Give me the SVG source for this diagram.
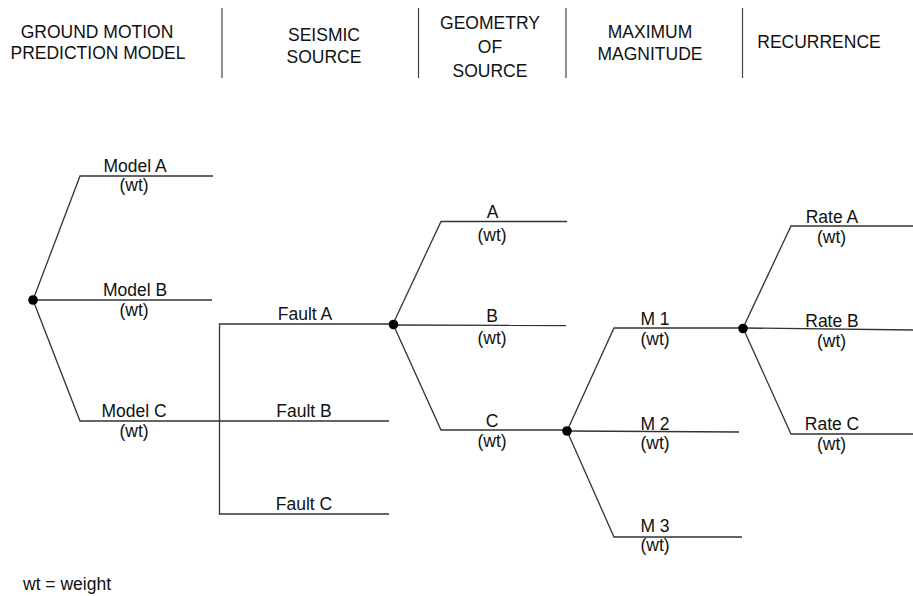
<svg xmlns="http://www.w3.org/2000/svg" width="913" height="596" viewBox="0 0 913 596">
<style>
text{font-family:"Liberation Sans",Arial,sans-serif;font-size:17.5px;fill:#111;text-anchor:middle}
.l{fill:none;stroke:#333;stroke-width:1.3}
.d{stroke:#444;stroke-width:1.2}
.dot{fill:#000}
</style>
<rect width="913" height="596" fill="#fff"/>
<g id="header">
<line class="d" x1="222" y1="8" x2="222" y2="78"/>
<line class="d" x1="418.5" y1="8" x2="418.5" y2="78"/>
<line class="d" x1="566" y1="8" x2="566" y2="78"/>
<line class="d" x1="742.5" y1="8" x2="742.5" y2="78"/>
<text x="97" y="38">GROUND MOTION</text>
<text x="98" y="59">PREDICTION MODEL</text>
<text x="324" y="41">SEISMIC</text>
<text x="324" y="63">SOURCE</text>
<text x="490" y="29">GEOMETRY</text>
<text x="490" y="53">OF</text>
<text x="490" y="77">SOURCE</text>
<text x="650" y="38">MAXIMUM</text>
<text x="650" y="60">MAGNITUDE</text>
<text x="819" y="48">RECURRENCE</text>
</g>
<g id="connectors">
<polyline class="l" points="33,300 80,176 213,176"/>
<line class="l" x1="33" y1="300" x2="212" y2="300"/>
<polyline class="l" points="33,300 80,421 389,421"/>
<polyline class="l" points="393,324 219.5,324 219.5,514 389,514"/>
<polyline class="l" points="393,324 441,221.5 567,221.5"/>
<line class="l" x1="393" y1="325" x2="566" y2="325.5"/>
<polyline class="l" points="393,324 441,430 567,430"/>
<polyline class="l" points="567,431 614,328 743,328"/>
<line class="l" x1="567" y1="431" x2="739" y2="432"/>
<polyline class="l" points="567,431 614,537 742,537"/>
<polyline class="l" points="743,328 791,226 913,226"/>
<line class="l" x1="743" y1="328" x2="913" y2="330"/>
<polyline class="l" points="743,328 791,434 913,434"/>
</g>
<g id="node-root"><circle class="dot" cx="33" cy="300" r="4.8"/></g>
<g id="node-modelA"><text x="135" y="172">Model A</text><text x="134" y="191">(wt)</text></g>
<g id="node-modelB"><text x="135" y="296">Model B</text><text x="134" y="316">(wt)</text></g>
<g id="node-modelC"><text x="134" y="417">Model C</text><text x="134" y="437">(wt)</text></g>
<g id="node-faultA"><text x="305" y="320">Fault A</text><circle class="dot" cx="393.5" cy="324.5" r="4.8"/></g>
<g id="node-faultB"><text x="304" y="417">Fault B</text></g>
<g id="node-faultC"><text x="304" y="510">Fault C</text></g>
<g id="node-geomA"><text x="492.5" y="218">A</text><text x="492" y="241">(wt)</text></g>
<g id="node-geomB"><text x="492" y="322">B</text><text x="492" y="344">(wt)</text></g>
<g id="node-geomC"><text x="492" y="426.5">C</text><text x="492" y="446.5">(wt)</text><circle class="dot" cx="567" cy="431" r="4.8"/></g>
<g id="node-M1"><text x="655" y="325">M 1</text><text x="655" y="345">(wt)</text><circle class="dot" cx="743" cy="328.5" r="4.8"/></g>
<g id="node-M2"><text x="655" y="430">M 2</text><text x="655" y="449">(wt)</text></g>
<g id="node-M3"><text x="655" y="532">M 3</text><text x="655" y="551">(wt)</text></g>
<g id="node-rateA"><text x="832" y="223">Rate A</text><text x="831.5" y="243">(wt)</text></g>
<g id="node-rateB"><text x="832" y="326.5">Rate B</text><text x="831.5" y="346.5">(wt)</text></g>
<g id="node-rateC"><text x="832" y="430">Rate C</text><text x="831.5" y="449.5">(wt)</text></g>
<g id="legend"><text x="23" y="590" style="text-anchor:start">wt = weight</text></g>
</svg>
